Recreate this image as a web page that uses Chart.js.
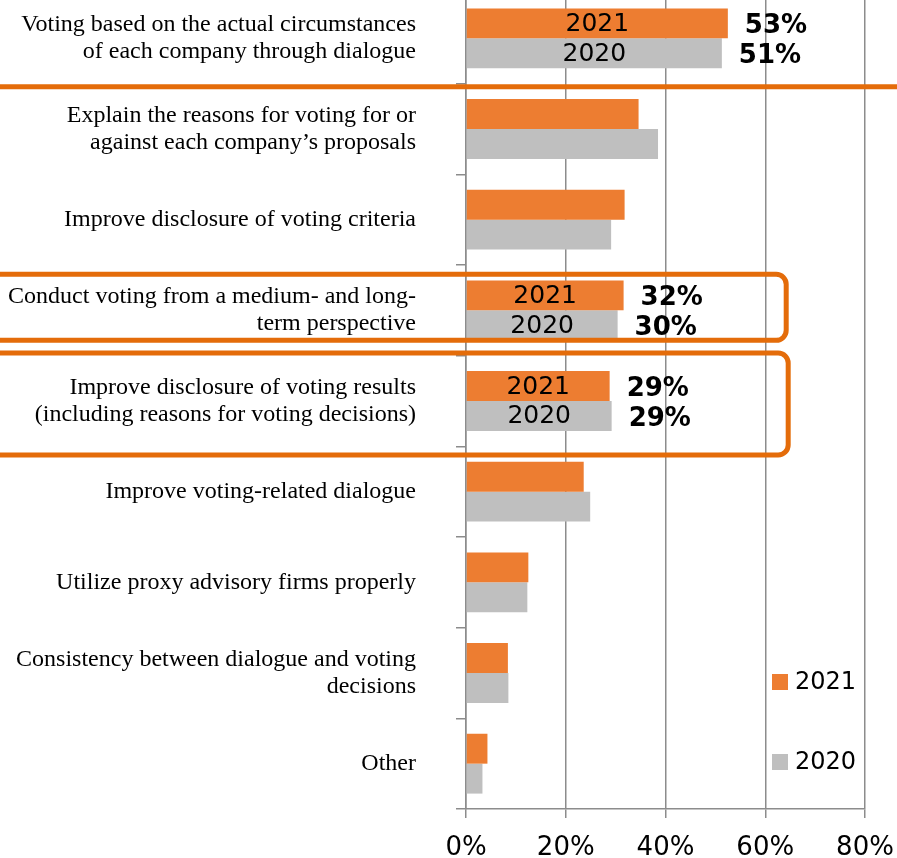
<!DOCTYPE html>
<html>
<head>
<meta charset="utf-8">
<script src="https://cdn.jsdelivr.net/npm/chart.js@4/dist/chart.umd.min.js"></script>
<style>
  html, body { margin: 0; padding: 0; background: #fff; overflow: hidden; }
  #wrap { position: absolute; left: 0; top: -20px; width: 897px; height: 878px; }
</style>
</head>
<body>
<div id="wrap"><canvas id="chart"></canvas></div>
<script>
const categories = [
    ['Voting based on the actual circumstances', 'of each company through dialogue'],
    ['Explain the reasons for voting for or', 'against each company\u2019s proposals'],
    'Improve disclosure of voting criteria',
    ['Conduct voting from a medium- and long-', 'term perspective'],
    ['Improve disclosure of voting results', '(including reasons for voting decisions)'],
    'Improve voting-related dialogue',
    'Utilize proxy advisory firms properly',
    ['Consistency between dialogue and voting', 'decisions'],
    'Other'
];
const values2021 = [52.5, 34.6, 31.8, 31.6, 28.8, 23.6, 12.5, 8.4, 4.3];
const values2020 = [51.3, 38.5, 29.1, 30.4, 29.2, 24.9, 12.3, 8.5, 3.3];
const xTicks = [0, 20, 40, 60, 80];
// rows that get year names and percentages written on them
const labelledRows = [0, 3, 4];

const ORANGE = '#ED7D31';
const GRAY = '#BFBFBF';
const MARK = '#E46C0A';
const SANS = '"DejaVu Sans", Verdana, sans-serif';
const SERIF = '"Liberation Serif", "Times New Roman", serif';

// keep the tick label overhang from shrinking the plot
function fixBox(scale, prop, size) {
    scale[prop] = size;
    scale.paddingLeft = scale.paddingRight = scale.paddingTop = scale.paddingBottom = 0;
}

// year text inside bars and bold % next to them
const barLabels = {
    id: 'barLabels',
    afterDatasetsDraw(chart) {
        const ctx = chart.ctx;
        ctx.save();
        chart.data.datasets.forEach((ds, i) => {
            const meta = chart.getDatasetMeta(i);
            for (const idx of labelledRows) {
                const bar = meta.data[idx];
                ctx.fillStyle = '#000';
                ctx.textBaseline = 'middle';
                ctx.font = '25px ' + SANS;
                ctx.textAlign = 'center';
                ctx.fillText(ds.label, (bar.base + bar.x) / 2, bar.y + 1);
                ctx.font = 'bold 26px ' + SANS;
                ctx.textAlign = 'left';
                ctx.fillText(Math.round(ds.data[idx]) + '%', bar.x + 17, bar.y + 3);
            }
        });
        ctx.restore();
    }
};

// orange separator, highlight boxes and the legend in the lower right
const marks = {
    id: 'marks',
    afterDraw(chart) {
        const ctx = chart.ctx;
        const y = chart.scales.y, x = chart.scales.x;
        const area = chart.chartArea;
        ctx.save();
        ctx.strokeStyle = MARK;
        ctx.lineWidth = 5;

        const sep = (y.getPixelForValue(0) + y.getPixelForValue(1)) / 2 + 3;
        ctx.beginPath();
        ctx.moveTo(0, sep);
        ctx.lineTo(chart.width, sep);
        ctx.stroke();

        const boxes = [
            { row: 3, up: 36, down: 30, right: 64.2 },
            { row: 4, up: 48, down: 54, right: 64.6 }
        ];
        for (const b of boxes) {
            const cy = y.getPixelForValue(b.row);
            const rx = x.getPixelForValue(b.right);
            ctx.beginPath();
            ctx.roundRect(-20, cy - b.up, rx + 20, b.up + b.down, 10);
            ctx.stroke();
        }

        ctx.font = '24px ' + SANS;
        ctx.textBaseline = 'middle';
        ctx.textAlign = 'left';
        chart.data.datasets.forEach((ds, i) => {
            const ly = area.bottom - 127 + i * 80;
            const lx = area.right - 93;
            ctx.fillStyle = ds.backgroundColor;
            ctx.fillRect(lx, ly - 8, 16, 16);
            ctx.fillStyle = '#000';
            ctx.fillText(ds.label, lx + 23, ly + 1);
        });
        ctx.restore();
    }
};

new Chart(document.getElementById('chart'), {
    type: 'bar',
    data: {
        labels: categories,
        datasets: [
            { label: '2021', data: values2021, backgroundColor: ORANGE },
            { label: '2020', data: values2020, backgroundColor: GRAY }
        ]
    },
    options: {
        indexAxis: 'y',
        responsive: true,
        maintainAspectRatio: false,
        animation: false,
        categoryPercentage: 0.66,
        barPercentage: 1.0,
        layout: { padding: { top: 13, right: 32, left: 0, bottom: 0 } },
        plugins: {
            legend: { display: false },
            tooltip: { enabled: false }
        },
        scales: {
            x: {
                min: 0,
                max: 80,
                afterBuildTicks: (scale) => { scale.ticks = xTicks.map(v => ({ value: v })); },
                afterFit: (scale) => fixBox(scale, 'height', 49),
                grid: { color: '#8C8C8C', lineWidth: 1.5, tickLength: 9 },
                border: { color: '#8C8C8C', width: 1.5 },
                ticks: {
                    callback: v => v + '%',
                    color: '#000',
                    padding: 15,
                    maxRotation: 0,
                    font: { family: SANS, size: 26 }
                }
            },
            y: {
                afterFit: (scale) => fixBox(scale, 'width', 466),
                grid: { offset: true, drawOnChartArea: false, color: '#8C8C8C', lineWidth: 1.5, tickLength: 10 },
                border: { color: '#8C8C8C', width: 1.5 },
                ticks: {
                    color: '#000',
                    padding: 40,
                    font: { family: SERIF, size: 24, lineHeight: 1.12 }
                }
            }
        }
    },
    plugins: [barLabels, marks]
});
</script>
</body>
</html>
